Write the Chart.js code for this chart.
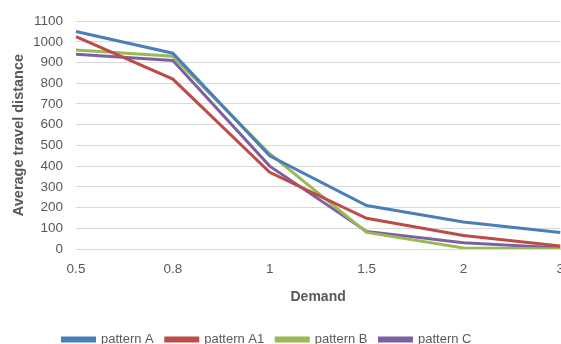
<!DOCTYPE html>
<html><head><meta charset="utf-8">
<script src="https://cdn.jsdelivr.net/npm/chart.js@4/dist/chart.umd.min.js"></script>
<style>html,body{margin:0;padding:0;overflow:hidden;background:#fff}#wrap{width:576px;height:344px}</style>
</head><body><div id="wrap"><canvas id="c"></canvas></div>
<script>
const categories = ['0.5','0.8','1','1.5','2','3'];
const patternA  = [1050, 945, 450, 210, 130, 80];
const patternA1 = [1025, 820, 370, 148, 65, 15];
const patternB  = [960, 930, 460, 80, 5, 0];
const patternC  = [940, 910, 400, 85, 30, 5];
const yTicks = [0,100,200,300,400,500,600,700,800,900,1000,1100];
const seriesNames = ['pattern A','pattern A1','pattern B','pattern C'];
const colors = ['#4a7ebb','#be4b48','#98b954','#7d60a0'];
const values = [patternA, patternA1, patternB, patternC];
const font = "'Liberation Sans', Arial, sans-serif";
const shiftLegend = {
  id: 'shiftLegend',
  beforeDraw(chart) {
    const lg = chart.legend;
    if (lg && !lg._shifted) {
      const orig = lg.draw.bind(lg);
      lg.draw = function() { const c = chart.ctx; c.save(); c.translate(-21, 0); orig(); c.restore(); };
      lg._shifted = true;
    }
  }
};
new Chart(document.getElementById('c'), {
  type: 'line',
  data: {
    labels: categories,
    datasets: values.map((v,i)=>({label: seriesNames[i], data: v, borderColor: colors[i], backgroundColor: colors[i], borderWidth: 3, pointRadius: 0, tension: 0}))
  },
  plugins: [shiftLegend],
  options: {
    responsive: true, maintainAspectRatio: false, animation: false,
    layout: {padding: {left: 0, top: 12, right: 0, bottom: -12}},
    plugins: {
      legend: {position: 'bottom', labels: {boxWidth: 32, boxHeight: 3, padding: 12, color: '#595959', font: {family: font, size: 13}}},
      tooltip: {enabled: false}
    },
    scales: {
      x: {
        offset: false,
        grid: {display: false, drawTicks: false},
        border: {color: '#d9d9d9'},
        ticks: {color: '#595959', font: {family: font, size: 13.5}, padding: 12, maxRotation: 0, autoSkip: false},
        title: {display: true, text: 'Demand', color: '#595959', font: {family: font, size: 14, weight: 'bold'}, padding: {top: 0, bottom: 15}}
      },
      y: {
        min: 0, max: 1100,
        afterBuildTicks: s => { s.ticks = yTicks.map(v=>({value:v})); },
        grid: {color: '#d9d9d9', drawTicks: false},
        border: {display: false},
        ticks: {color: '#595959', font: {family: font, size: 13.5}, padding: 13, callback: v => String(v)},
        title: {display: true, text: 'Average travel distance', color: '#595959', font: {family: font, size: 14.5, weight: 'bold'}, padding: {top: 10, bottom: 4}},
        afterFit: s => { s.width = 76; }
      }
    }
  }
});
</script></body></html>
